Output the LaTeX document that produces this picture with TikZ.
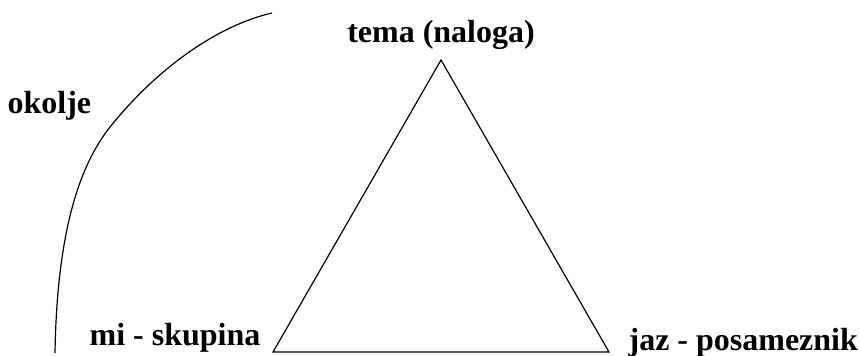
\documentclass[tikz,border=0pt]{standalone}
\usepackage{fontspec}
\setmainfont{Liberation Serif}
\usetikzlibrary{positioning}
\begin{document}
\begin{tikzpicture}[x=0.5pt,y=-0.5pt,line width=0.6pt,
 lbl/.style={font=\bfseries\fontsize{16}{18}\selectfont,inner sep=0pt}]
\useasboundingbox (0,0) rectangle (860,355);
\coordinate (t) at (441,60);
\coordinate (l) at (273,352);
\coordinate (r) at (609,352);
\node[lbl,anchor=base] (tema) at (441,42) {tema (naloga)};
\node[lbl,anchor=base west] (mi) at (89,345) {mi - skupina};
\node[lbl,anchor=base west] (jaz) at (628,350) {jaz - posameznik};
\node[lbl,anchor=base west] (okolje) at (7,113) {okolje};
\draw (t)--(r)--(l)--cycle;
\coordinate (o1) at (55,353);
\coordinate (o2) at (110,127);
\coordinate (o3) at (272,13);
\draw (o1) .. controls (57,230) and (80,165) .. (o2) .. controls (160,65) and (220,25) .. (o3);
\end{tikzpicture}
\end{document}
